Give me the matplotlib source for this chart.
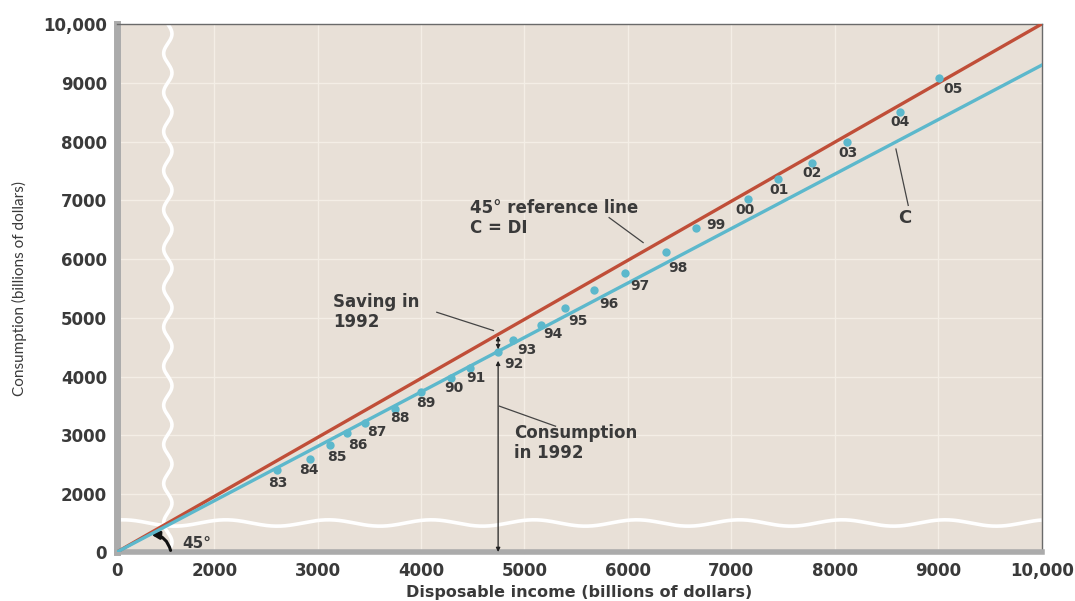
"""
Consumption vs. disposable income, 1983-2005, with the 45 degree reference line.
"""

import numpy as np
import matplotlib
matplotlib.use('Agg')
from matplotlib import pyplot as plt

# data (billions of dollars)
years = ['83', '84', '85', '86', '87', '88', '89', '90', '91', '92', '93', '94',
         '95', '96', '97', '98', '99', '00', '01', '02', '03', '04', '05']
income = [2610, 2925, 3115, 3285, 3460, 3750, 3995, 4285, 4475, 4745, 4890, 5155,
          5395, 5670, 5975, 6370, 6660, 7165, 7450, 7780, 8120, 8630, 9010]
consumption = [2410, 2590, 2830, 3045, 3215, 3455, 3730, 3980, 4155, 4415, 4620, 4885,
               5175, 5470, 5765, 6120, 6530, 7025, 7365, 7635, 7995, 8505, 9080]

# straight lines: 45 degree line and the consumption function C
ref_x = [0, 10000]
ref_y = [0, 10000]
c_x = [0, 10000]
c_y = [0, 9300]

ticks = [0, 2000, 3000, 4000, 5000, 6000, 7000, 8000, 9000, 10000]
tick_labels = ['0', '2000', '3000', '4000', '5000', '6000', '7000', '8000', '9000', '10,000']

# label offsets from each dot, in pixels (x right, y up)
label_offsets = [(1, -13), (-1, -11), (7, -12), (11, -12), (12, -9), (5, -9), (5, -11),
                 (3, -10), (6, -10), (16, -12), (14, -10), (12, -9), (13, -13), (15, -14),
                 (15, -13), (12, -16), (20, 3), (-3, -11), (1, -11), (0, -10), (1, -11),
                 (0, -10), (14, -11)]

BG = '#e8e0d7'
RED = '#c04e38'
BLUE = '#5cb8cc'
TXT = '#3a3a3a'

plt.rcParams['font.family'] = ['DejaVu Sans']


def make_scale(a):
    # squeeze 0..2000 into the space of about 1000 (broken axis)
    def forward(v):
        v = np.asarray(v, dtype=float)
        return np.where(v < 2000, a + v * (2000 - a) / 2000., v)

    def inverse(u):
        u = np.asarray(u, dtype=float)
        return np.where(u < 2000, (u - a) * 2000. / (2000 - a), u)
    return forward, inverse


fig = plt.figure(figsize=(10.75, 6.01), dpi=100)
ax = fig.add_axes([0.1088, 0.0815, 0.8602, 0.8785])
ax.set_facecolor(BG)

ax.set_xscale('function', functions=make_scale(1060))
ax.set_yscale('function', functions=make_scale(1015))
ax.set_xlim(0, 10000)
ax.set_ylim(0, 10000)

# grid lines only in the unbroken part
for g in ticks[1:-1]:
    ax.axvline(g, color='#f4eee6', lw=1.0, zorder=1)
    ax.axhline(g, color='#f4eee6', lw=1.0, zorder=1)

# axis-break wavy lines
t = np.linspace(0, 1, 600)
ax.plot(0.055 + 0.0045 * np.sin(2 * np.pi * t * 13.5), t, color='white', lw=2.6,
        transform=ax.transAxes, zorder=2, solid_capstyle='butt')
ax.plot(t, 0.055 + 0.006 * np.sin(2 * np.pi * t * 9 + 1.2), color='white', lw=2.6,
        transform=ax.transAxes, zorder=2, solid_capstyle='butt')

ax.plot(ref_x, ref_y, color=RED, lw=2.4, zorder=4)
ax.plot(c_x, c_y, color=BLUE, lw=2.4, zorder=4)
ax.plot(income, consumption, 'o', color=BLUE, ms=6, mec='none', zorder=5)

for yr, xi, yi, off in zip(years, income, consumption, label_offsets):
    ax.annotate(yr, (xi, yi), xytext=off, textcoords='offset pixels',
                ha='center', va='center', fontsize=10, fontweight='bold',
                color=TXT, zorder=6)

# annotations
note = dict(fontsize=12, fontweight='bold', color=TXT, va='center', ha='left',
            linespacing=1.15)
ax.text(4476, 6706, '45° reference line\nC = DI', **note)
ax.plot([5818, 6147], [6706, 6281], color='#444444', lw=0.9, zorder=3)

ax.text(8679, 6706, 'C', fontsize=13, fontweight='bold', color=TXT, va='center', ha='center')
ax.plot([8591, 8710], [7873, 6914], color='#444444', lw=0.9, zorder=3)

ax.text(3153, 5099, 'Saving in\n1992', **note)
ax.plot([4152, 4700], [5095, 4784], color='#444444', lw=0.9, zorder=3)

ax.text(4902, 2871, 'Consumption\nin 1992', **note)
ax.plot([4758, 5300], [3497, 3156], color='#444444', lw=0.9, zorder=3)

# saving gap and consumption arrows at 1992
ax.annotate('', xy=(4745, 4465), xytext=(4745, 4690),
            arrowprops=dict(arrowstyle='<|-|>', color='#222222', lw=0.9,
                            mutation_scale=6, shrinkA=0, shrinkB=0), zorder=6)
ax.annotate('', xy=(4745, 4270), xytext=(4745, 0),
            arrowprops=dict(arrowstyle='<|-|>', color='#222222', lw=0.9,
                            mutation_scale=6, shrinkA=0, shrinkB=0), zorder=6)

# 45 degree marker near the origin
ax.text(0.071, 0.016, '45°', transform=ax.transAxes, fontsize=11, fontweight='bold',
        color=TXT, va='center', ha='left')
ax.annotate('', xy=(0.037, 0.033), xytext=(0.058, 0.003), xycoords='axes fraction',
            textcoords='axes fraction',
            arrowprops=dict(arrowstyle='-|>', color='#111111', lw=2.2,
                            mutation_scale=11, shrinkA=0, shrinkB=0,
                            connectionstyle='arc3,rad=0.35'))

# frame
for side in ['top', 'right']:
    ax.spines[side].set_color('#6a6a6a')
    ax.spines[side].set_linewidth(1.0)
ax.spines['left'].set_color('#ababab')
ax.spines['left'].set_linewidth(5)
ax.spines['bottom'].set_color('#ababab')
ax.spines['bottom'].set_linewidth(4.0)

ax.set_xticks(ticks)
ax.set_xticklabels(tick_labels)
ax.set_yticks(ticks)
ax.set_yticklabels(tick_labels)
ax.minorticks_off()
ax.tick_params(length=0, labelsize=12, labelcolor=TXT, pad=7)
for lab in ax.get_xticklabels() + ax.get_yticklabels():
    lab.set_fontweight('bold')

ax.set_xlabel('Disposable income (billions of dollars)', fontsize=11.5,
              fontweight='bold', color=TXT)
ax.xaxis.set_label_coords(0.5, -0.062)
ax.set_ylabel('Consumption (billions of dollars)', fontsize=11, color=TXT,
              family=['Lato', 'DejaVu Sans'])
ax.yaxis.set_label_coords(-0.097, 0.5)

fig.savefig('out.png', dpi=100, facecolor='white')
